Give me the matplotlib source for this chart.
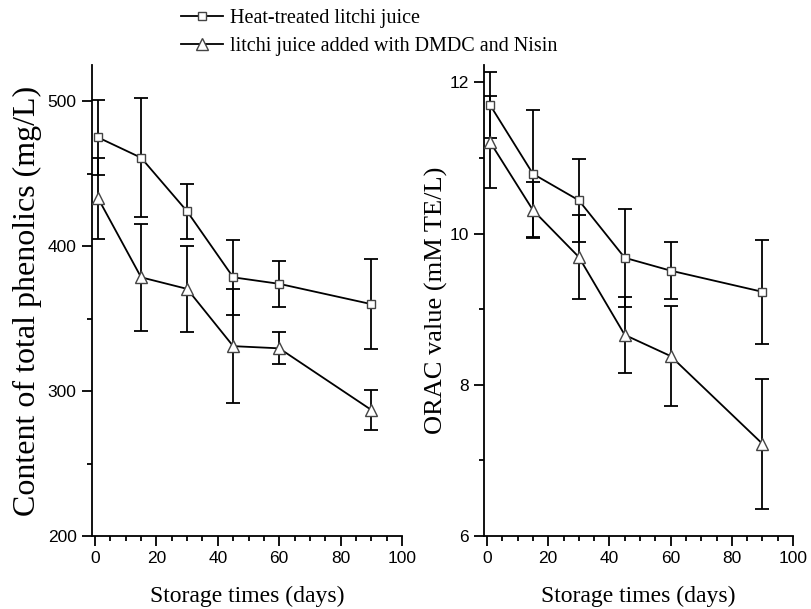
import numpy as np
import matplotlib.pyplot as plt
from matplotlib.ticker import MultipleLocator

# Storage days
days = [1, 15, 30, 45, 60, 90]

# Total phenolics (mg/L)
phen_heat = [475, 461, 424, 378.5, 374, 360]
phen_heat_err = [26, 41, 19, 26, 16, 31]
phen_dmdc = [433, 378.5, 370.5, 331, 329.5, 287]
phen_dmdc_err = [28, 37, 29.5, 39.5, 11, 14]

# ORAC value (mM TE/L)
orac_heat = [11.70, 10.79, 10.44, 9.68, 9.51, 9.23]
orac_heat_err = [0.44, 0.84, 0.55, 0.65, 0.38, 0.69]
orac_dmdc = [11.21, 10.31, 9.69, 8.66, 8.38, 7.22]
orac_dmdc_err = [0.61, 0.37, 0.55, 0.50, 0.66, 0.86]

labels = ["Heat-treated litchi juice", "litchi juice added with DMDC and Nisin"]

serif = "Liberation Serif"
sans = "Liberation Sans"

fig = plt.figure(figsize=(8.11, 6.09), dpi=100)
ax1 = fig.add_axes([92 / 811, 1 - 536 / 609, 310 / 811, 471 / 609])
ax2 = fig.add_axes([484 / 811, 1 - 536 / 609, 309 / 811, 471 / 609])


def draw(ax, y1, e1, y2, e2):
    ax.errorbar(days, y1, yerr=e1, fmt='none', ecolor='black', elinewidth=1.3,
                capsize=5, capthick=1.3, zorder=2)
    ax.errorbar(days, y2, yerr=e2, fmt='none', ecolor='black', elinewidth=1.3,
                capsize=5, capthick=1.3, zorder=2)
    h1, = ax.plot(days, y1, '-', color='black', lw=1.3, marker='s', ms=6,
                  mfc='white', mec='#444444', mew=1.0, zorder=3)
    h2, = ax.plot(days, y2, '-', color='black', lw=1.3, marker='^', ms=9,
                  mfc='white', mec='#444444', mew=1.0, zorder=3)
    for s in ['top', 'right']:
        ax.spines[s].set_visible(False)
    for s in ['left', 'bottom']:
        ax.spines[s].set_linewidth(1.3)
    ax.set_xlim(-1, 100)
    ax.xaxis.set_major_locator(MultipleLocator(20))
    ax.xaxis.set_minor_locator(MultipleLocator(5))
    ax.tick_params(which='major', direction='out', length=7, width=1.3,
                   labelsize=12.5, pad=4)
    ax.tick_params(which='minor', direction='out', length=3.5, width=1.3)
    for lab in ax.get_xticklabels() + ax.get_yticklabels():
        lab.set_family(sans)
    ax.set_xlabel("Storage times (days)", family=serif, fontsize=17, labelpad=14)
    return h1, h2


h1, h2 = draw(ax1, phen_heat, phen_heat_err, phen_dmdc, phen_dmdc_err)
ax1.set_ylim(200, 525)
ax1.yaxis.set_major_locator(MultipleLocator(100))
ax1.yaxis.set_minor_locator(MultipleLocator(50))
for lab in ax1.get_yticklabels():
    lab.set_family(sans)
ax1.set_ylabel("Content of total phenolics (mg/L)", family=serif, fontsize=23,
               labelpad=4)

draw(ax2, orac_heat, orac_heat_err, orac_dmdc, orac_dmdc_err)
ax2.set_ylim(6, 12.23)
ax2.yaxis.set_major_locator(MultipleLocator(2))
ax2.yaxis.set_minor_locator(MultipleLocator(1))
for lab in ax2.get_yticklabels():
    lab.set_family(sans)
ax2.set_ylabel("ORAC value (mM TE/L)", family=serif, fontsize=19, labelpad=1)

fig.legend([h1, h2], labels, loc='upper left', bbox_to_anchor=(181 / 811, 1 - 9 / 609),
           frameon=False, prop={'family': serif, 'size': 14.5}, handlelength=2.1,
           handletextpad=0.35, labelspacing=0.45, borderpad=0, borderaxespad=0)

fig.savefig("out.png", dpi=100)
